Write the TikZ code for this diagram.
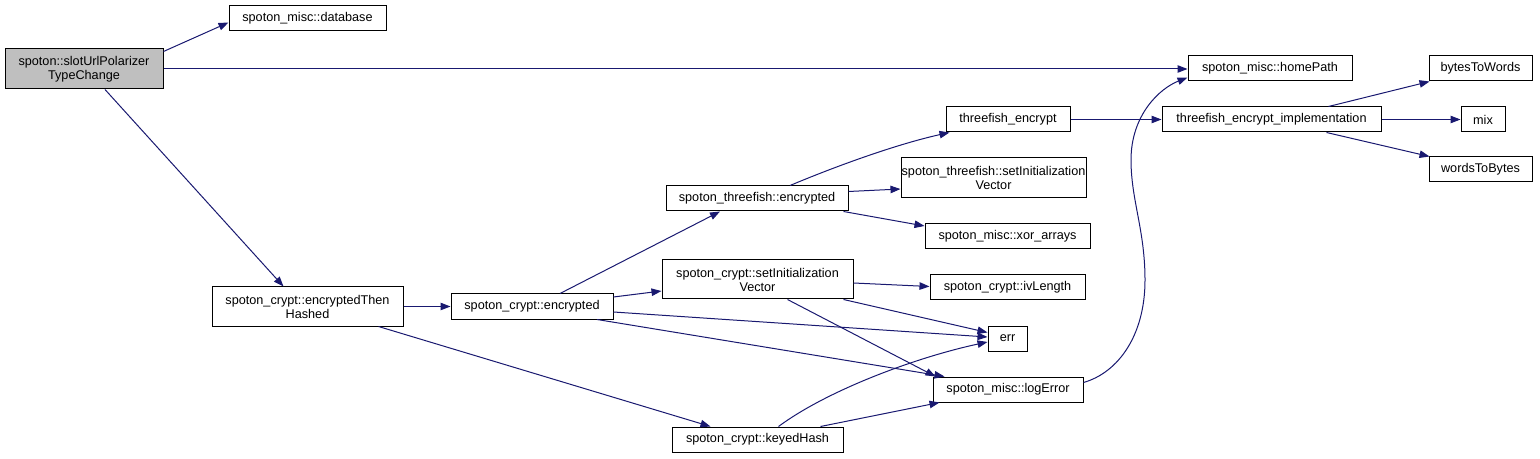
\documentclass[tikz,border=0pt]{standalone}
\usepackage{fontspec}
\setmainfont{Liberation Sans}
\usetikzlibrary{calc,arrows.meta}
\definecolor{edgeblue}{HTML}{191970}
\definecolor{rootgray}{HTML}{BFBFBF}
% \bxnode{name}{x1}{y1}{x2}{y2}{options}{text}
\newcommand\bxnode[7]{\node[box,#6,minimum width={(#4-#2)*0.75pt},
  minimum height={(#5-#3)*0.75pt}] (#1) at ({(#2+#4)/2},{(#3+#5)/2}) {#7};}
\begin{document}
\begin{tikzpicture}[x=0.75pt,y=-0.75pt,
  box/.style={draw=black,line width=0.75pt,inner sep=0pt,align=center,
    font=\fontsize{9.5}{10.5}\selectfont},
  edge/.style={draw=edgeblue,line width=0.75pt,
    -{Triangle[length=7.5pt,width=5.6pt]}}]
\useasboundingbox (0,0) rectangle (1540,459);
% nodes
\bxnode{root}{5}{49}{163}{89}{fill=rootgray}{spoton::slotUrlPolarizer\\TypeChange}
\bxnode{db}{229}{6}{386}{31}{}{spoton\_misc::database}
\bxnode{home}{1188}{56}{1352}{81}{}{spoton\_misc::homePath}
\bxnode{b2w}{1429}{56}{1532}{81}{}{bytesToWords}
\bxnode{te}{946}{107}{1070}{132}{}{threefish\_encrypt}
\bxnode{impl}{1162}{107}{1381}{132}{}{threefish\_encrypt\_implementation}
\bxnode{mix}{1461}{107}{1505}{132}{}{mix}
\bxnode{w2b}{1429}{157}{1532}{182}{}{wordsToBytes}
\bxnode{tsiv}{901}{158}{1086}{198}{}{spoton\_threefish::setInitialization\\Vector}
\bxnode{tfenc}{666}{186}{848}{211}{}{spoton\_threefish::encrypted}
\bxnode{xor}{925}{224}{1090}{249}{}{spoton\_misc::xor\_arrays}
\bxnode{csiv}{662}{260}{853}{299}{}{spoton\_crypt::setInitialization\\Vector}
\bxnode{ivl}{930}{275}{1085}{300}{}{spoton\_crypt::ivLength}
\bxnode{eth}{212}{287}{403}{326}{}{spoton\_crypt::encryptedThen\\Hashed}
\bxnode{cenc}{451}{294}{613}{319}{}{spoton\_crypt::encrypted}
\bxnode{err}{988}{326}{1027}{351}{}{err}
\bxnode{log}{933}{377}{1083}{402}{}{spoton\_misc::logError}
\bxnode{kh}{672}{427}{843}{452}{}{spoton\_crypt::keyedHash}
% waypoints of the curved connector
\coordinate (w1) at (1145,280);
\coordinate (w2) at (1131,160);
% edges
\draw[edge] ($(root.north east)+(0,3)$) -- ($(db.west)+(0,4)$);
\draw[edge] (root.east) -- (root.east -| home.west);
\draw[edge] ($(root.south)+(21,0)$) -- ($(eth.north)+(-24,0)$);
\draw[edge] (eth.east) -- (eth.east -| cenc.west);
\draw[edge] ($(eth.south)+(71,0)$) -- ($(kh.north)+(-47,0)$);
\draw[edge] ($(cenc.north)+(28,0)$) -- ($(tfenc.south)+(-37,0)$);
\draw[edge] ($(cenc.east)+(0,-9.5)$) -- ($(csiv.west)+(0,11.5)$);
\draw[edge] ($(cenc.east)+(0,5.5)$) -- ($(err.west)+(0,-1.5)$);
\draw[edge] ($(cenc.south)+(65,0)$) -- ($(log.north west)+(12,0)$);
\draw[edge] ($(tfenc.north)+(33,0)$) .. controls +(50,-21) and +(-50,11) .. ($(te.south west)+(4,0)$);
\draw[edge] ($(tfenc.east)+(0,-7)$) -- ($(tsiv.west)+(0,11)$);
\draw[edge] ($(tfenc.south east)+(-5,0)$) -- ($(xor.west)+(0,-10.5)$);
\draw[edge] (te.east) -- (te.east -| impl.west);
\draw[edge] ($(impl.north)+(57,0)$) -- ($(b2w.south west)+(1,0)$);
\draw[edge] (impl.east) -- (impl.east -| mix.west);
\draw[edge] ($(impl.south)+(55,0)$) -- ($(w2b.north west)+(1,0)$);
\draw[edge] ($(csiv.east)+(0,3.5)$) -- ($(ivl.west)+(0,-1)$);
\draw[edge] ($(csiv.south)+(86,0)$) -- ($(err.west)+(0,-6)$);
\draw[edge] ($(csiv.south)+(30,0)$) -- ($(log.north west)+(3,0)$);
\draw[edge] ($(kh.north)+(21,0)$) .. controls +(50,-37) and +(-70,15) .. ($(err.west)+(0,3.5)$);
\draw[edge] ($(kh.north)+(63,0)$) -- ($(log.south west)+(7,0)$);
\draw[edge] ($(log.east)+(0,-7)$) .. controls +(35,-10) and +(0,55) .. (w1)
  .. controls +(0,-50) and +(0,40) .. (w2)
  .. controls +(0,-45) and +(-28,11) .. ($(home.south west)+(0,-4)$);
\end{tikzpicture}
\end{document}
